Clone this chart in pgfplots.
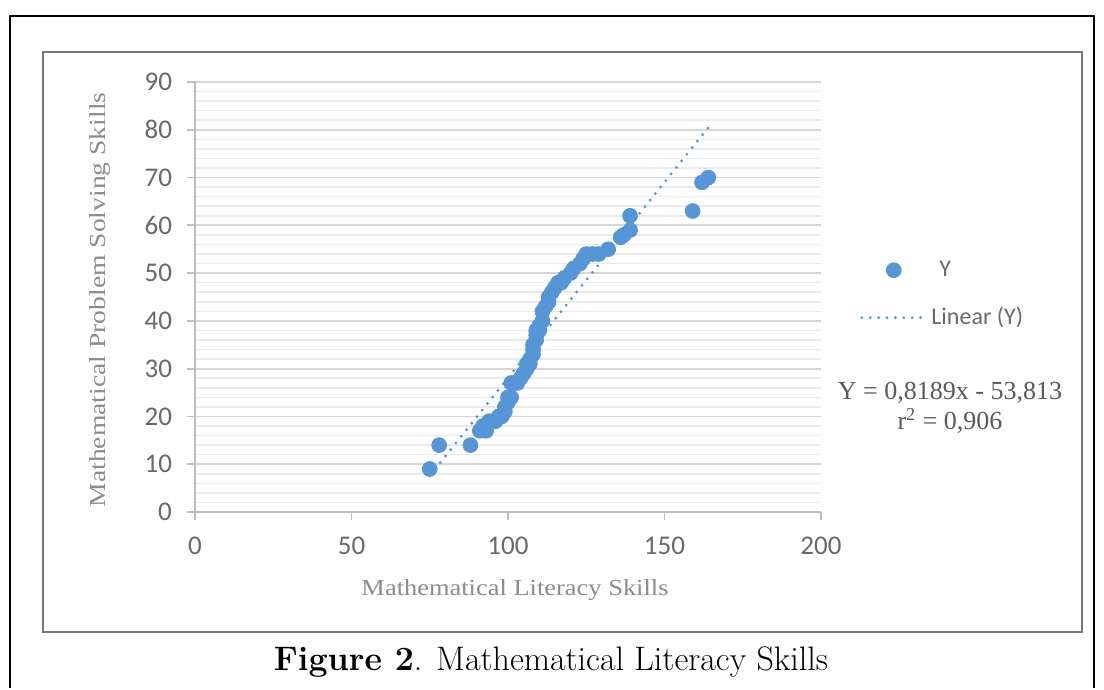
\documentclass[border=0pt]{standalone}
\usepackage{fontspec}
\usepackage{pgfplots}
\pgfplotsset{compat=1.18}
\newfontfamily\carlito{Carlito}
\newfontfamily\libserif{Liberation Serif}
\definecolor{xlblue}{RGB}{86,150,214}
\definecolor{ticktext}{RGB}{105,105,105}
\definecolor{eqtext}{RGB}{89,89,89}
\definecolor{titletext}{RGB}{140,140,140}
\definecolor{majgrid}{RGB}{214,214,214}
\definecolor{mingrid}{RGB}{234,234,234}
\definecolor{axisgray}{RGB}{190,190,190}
\definecolor{framegray}{RGB}{120,120,120}
\pgfplotsset{
  scatleg/.style={legend image code/.code={\draw[##1] plot coordinates {(16pt,0pt)};}},
  lineleg/.style={legend image code/.code={\draw[##1] (0pt,0pt) -- (32pt,0pt);}},
}
\begin{document}
\begin{tikzpicture}[x=0.5pt,y=-0.5pt]
\path[fill=white] (0,0) rectangle (1104,688);
\draw[black, line width=1.4pt] (10,688) -- (10,16) -- (1094,16) -- (1094,688);
\draw[framegray, line width=1.2pt] (43,52) rectangle (1082,632);
\begin{axis}[
  at={(97.5pt,-256pt)}, anchor=south west,
  scale only axis, width=313pt, height=215pt,
  xmin=0, xmax=200, ymin=0, ymax=90,
  xtick={0,50,...,200}, ytick={0,10,...,90},
  minor y tick num=4,
  ymajorgrids, yminorgrids,
  major grid style={majgrid, line width=0.9pt},
  minor grid style={mingrid, line width=0.8pt},
  axis lines*=left,
  axis line style={axisgray, line width=0.9pt},
  tick align=outside,
  major tick length=4pt, minor tick length=0pt,
  tick style={axisgray, line width=0.9pt},
  /pgf/number format/assume math mode=true,
  ticklabel style={font=\carlito\fontsize{13.5}{15}\selectfont, text=ticktext},
  xticklabel style={yshift=-5pt},
  yticklabel style={xshift=-4pt},
  clip=false,
  legend style={at={(rel axis cs:1.062,0.594)}, anchor=north west, draw=none, fill=none,
    font=\carlito\fontsize{12}{14}\selectfont, text=ticktext, row sep=10pt, inner sep=0pt},
  legend cell align=left,
]
\addplot[only marks, mark=*, mark size=3.7pt, color=xlblue, scatleg]
coordinates {
(75,9)(78,14)(88,14)(91,17)(92,18)(93,17)(94,19)(96,19)(97,20)(98,20)
(99,21)(99,22)(100,23)(100,24)(101,24)(101,27)(102,27)(103,27)(104,28)(105,29)
(106,30)(106,31)(107,31)(107,32)(108,33)(108,34)(108,35)(109,36)(109,37)(109,38)
(110,38)(110,39)(111,40)(111,42)(112,43)(113,44)(113,45)(114,46)(115,47)(116,48)
(117,48)(118,49)(120,50)(121,51)(123,52)(124,53)(125,54)(127,54)(129,54)(132,55)
(136,57.5)(137,58)(139,59)(139,62)(159,63)(162,69)(164,70)
};
\addlegendentry{\hspace{4pt}Y}
\addplot[xlblue, line width=1.6pt, line cap=round, dash pattern=on 0pt off 4.2pt, lineleg]
coordinates {(75,7.6045)(164,80.4866)};
\addlegendentry{Linear (Y)}
\end{axis}
\node[font=\libserif\fontsize{11.5}{13}\selectfont, text=titletext] at (515,590)
  {\scalebox{1.15}[1]{Mathematical Literacy Skills}};
\node[font=\libserif\fontsize{11.5}{13}\selectfont, text=titletext, rotate=90] at (100,300)
  {\scalebox{1.2}[1]{Mathematical Problem Solving Skills}};
\node[font=\libserif\fontsize{13}{15}\selectfont, text=eqtext] at (950,393)
  {Y = 0,8189x - 53,813};
\node[font=\libserif\fontsize{13}{15}\selectfont, text=eqtext] at (950,421)
  {r\textsuperscript{2} = 0,906};
\node[font=\fontsize{17}{20}\selectfont, text=black] at (551,662)
  {\textbf{Figure 2}. Mathematical Literacy Skills};
\end{tikzpicture}
\end{document}
